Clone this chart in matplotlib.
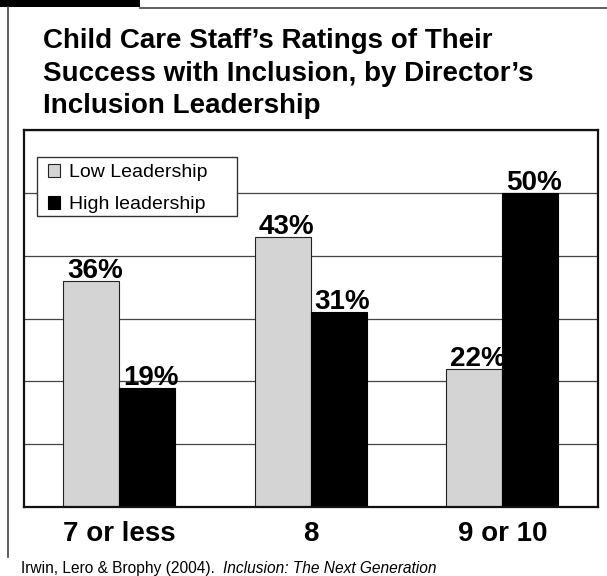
import matplotlib
matplotlib.use('Agg')
import matplotlib.pyplot as plt
from matplotlib.patches import Rectangle, Patch
from matplotlib.lines import Line2D
import numpy as np

plt.rcParams['font.family'] = ['Liberation Sans', 'DejaVu Sans']

categories = ['7 or less', '8', '9 or 10']
low_leadership = [36, 43, 22]
high_leadership = [19, 31, 50]
series_names = ['Low Leadership', 'High leadership']
title = "Child Care Staff\u2019s Ratings of Their\nSuccess with Inclusion, by Director\u2019s\nInclusion Leadership"
source = "Irwin, Lero & Brophy (2004).  "
source_title = "Inclusion: The Next Generation"

W, H = 607, 576
fig = plt.figure(figsize=(W / 100, H / 100), dpi=100)

# outer frame: black tab, top rule, left rule
fig.patches.append(Rectangle((0, 1 - 7 / H), 140 / W, 7 / H, transform=fig.transFigure,
                             facecolor='black', edgecolor='none'))
fig.lines.append(Line2D([140 / W, 1], [1 - 7.5 / H, 1 - 7.5 / H], transform=fig.transFigure,
                        color='#444444', lw=1.2))
fig.lines.append(Line2D([7.5 / W, 7.5 / W], [1 - 7 / H, 1 - 557 / H], transform=fig.transFigure,
                        color='#444444', lw=1.2))

# multi-line baseline alignment uses the last line
fig.text(43 / W, 1 - 113 / H, title, fontsize=20, fontweight='bold', ha='left', va='baseline',
         linespacing=1.32)

ax = fig.add_axes([23.5 / W, 1 - 507 / H, (598 - 23.5) / W, (507 - 130) / H])
x = np.arange(len(categories))
w = 0.293
b1 = ax.bar(x - w / 2, low_leadership, w, color='#d4d4d4', edgecolor='#222222', lw=0.8,
            label=series_names[0], zorder=2)
b2 = ax.bar(x + w / 2, high_leadership, w, color='black', edgecolor='black', lw=0.8,
            label=series_names[1], zorder=2)

for bars, vals in ((b1, low_leadership), (b2, high_leadership)):
    for r, v in zip(bars, vals):
        ax.annotate(f'{v}%', (r.get_x() + r.get_width() / 2 + 0.02, v), xytext=(0, 2),
                    textcoords='offset points', ha='center', va='baseline',
                    fontsize=20, fontweight='bold', zorder=3)

ax.set_xlim(-0.5, 2.5)
ax.set_ylim(0, 60)
ax.set_yticks(np.arange(0, 61, 10))
ax.yaxis.grid(True, color='#444444', lw=0.9)
ax.set_axisbelow(True)
ax.tick_params(axis='y', length=0, labelleft=False)
ax.set_xticks(x)
ax.set_xticklabels(categories, fontsize=20, fontweight='bold')
ax.tick_params(axis='x', length=0, pad=10)
for s in ax.spines.values():
    s.set_linewidth(1.6)
    s.set_color('#111111')

# legend box drawn separately so it can be wider than its entries
ax_w, ax_h = 598 - 23.5, 507 - 130
def ax_frac(px, py):
    return (px - 23.5) / ax_w, (507 - py) / ax_h

bx0, by0 = ax_frac(37, 216)
bx1, by1 = ax_frac(237, 157)
ax.add_patch(Rectangle((bx0, by0), bx1 - bx0, by1 - by0, transform=ax.transAxes,
                       facecolor='white', edgecolor='#333333', lw=1.0, zorder=4))

handles = [Patch(facecolor='#d4d4d4', edgecolor='#222222', lw=0.8),
           Patch(facecolor='black', edgecolor='black', lw=0.8)]
lx, ly = ax_frac(48, 164)
leg = ax.legend(handles, series_names, loc='upper left', bbox_to_anchor=(lx, ly),
                borderaxespad=0, borderpad=0, fontsize=14, frameon=False,
                handlelength=0.62, handleheight=0.62, handletextpad=0.45, labelspacing=0.76)
leg.set_zorder(5)

t1 = fig.text(21 / W, 1 - 573 / H, source, fontsize=11.2, ha='left', va='baseline')
fig.canvas.draw()
bb = t1.get_window_extent()
fig.text(bb.x1 / W, 1 - 573 / H, source_title, fontsize=11.2, style='italic',
         ha='left', va='baseline')

fig.savefig('out.png', dpi=100)
